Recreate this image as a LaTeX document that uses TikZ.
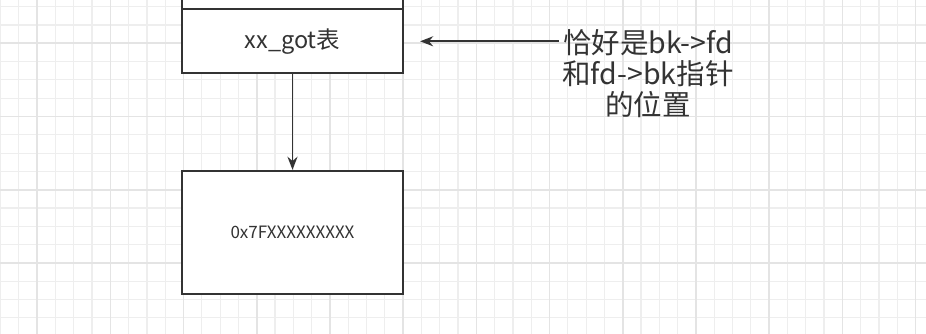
\documentclass[tikz,border=0pt]{standalone}
\usepackage{fontspec}
\setmainfont{Noto Sans CJK SC}
\usepackage{xcolor}
\usepackage{tikz}
\usetikzlibrary{arrows.meta,calc,positioning}
\definecolor{gridminor}{HTML}{EEEEEE}
\definecolor{gridmajor}{HTML}{E4E4E4}
\definecolor{ink}{HTML}{333333}
\tikzset{
  cell/.style={draw=ink,line width=1.7pt,fill=white,minimum width=221.6pt,inner sep=0pt},
}

\begin{document}
\begin{tikzpicture}[x=1pt,y=-1pt,>={Stealth[length=13pt,width=10pt]}]
  \useasboundingbox (0,0) rectangle (926,334);
  \clip (0,0) rectangle (926,334);
  \fill[white] (0,0) rectangle (926,334);
  % background grid
  \foreach \i in {-2,...,50} {
    \draw[gridminor,line width=1.2pt] ({37.1+18.3*\i},0) -- ({37.1+18.3*\i},334);
    \draw[gridminor,line width=1.2pt] (0,{43.3+18.3*\i}) -- (926,{43.3+18.3*\i});
  }
  \foreach \i in {-1,...,12} {
    \draw[gridmajor,line width=1.6pt] ({37.1+73.2*\i},0) -- ({37.1+73.2*\i},334);
    \draw[gridmajor,line width=1.6pt] (0,{43.3+73.2*\i}) -- (926,{43.3+73.2*\i});
  }
  \node[cell,minimum height=64pt] (prev) at (292.5,-22.7) {};
  \node[cell,minimum height=64pt,font=\fontsize{23.5}{26}\selectfont,text=ink] (got) at (292.5,41.3) {xx\_got表};
  \node[cell,minimum height=123.3pt,font=\fontsize{17}{20}\selectfont,text=ink] (addr) at (292.5,232.3) {0x7FXXXXXXXXX};
  \node[align=center,inner sep=0pt,font=\fontsize{28.5}{31}\selectfont,text=ink] (note) at (648,74) {恰好是bk->fd\\和fd->bk指针\\的位置};
  \draw[->,ink,line width=1.7pt] (got) -- (addr);
  \draw[->,ink,line width=1.7pt] ([xshift=-3pt]note.west |- got.east) -- ([xshift=16pt]got.east);
\end{tikzpicture}
\end{document}
